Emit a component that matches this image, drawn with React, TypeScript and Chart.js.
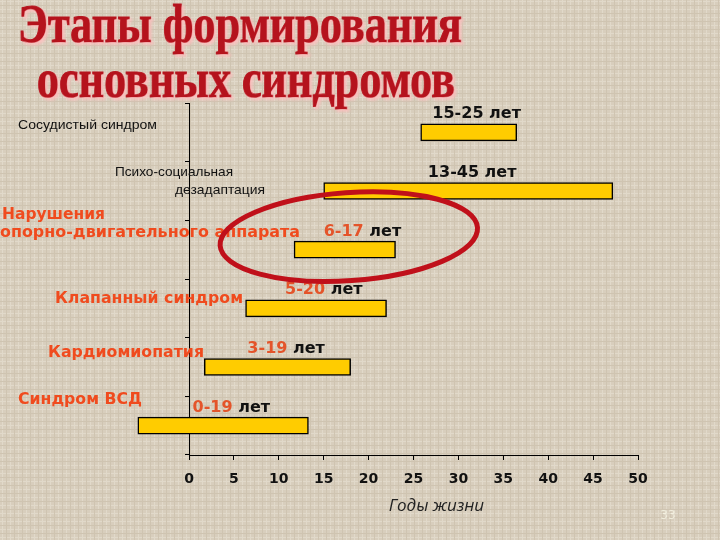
import React, { useEffect, useRef } from "react";
import { Chart, registerables } from "chart.js";

Chart.register(...registerables);

// ---------- data ----------
const titleLines = ["Этапы формирования", "основных синдромов"];
const categories = [
  "Сосудистый синдром",
  "Психо-социальная дезадаптация",
  "Нарушения опорно-двигательного аппарата",
  "Клапанный синдром",
  "Кардиомиопатия",
  "Синдром ВСД",
];
const categoryLines = [
  ["Сосудистый синдром"],
  ["Психо-социальная", "дезадаптация"],
  ["Нарушения", "опорно-двигательного аппарата"],
  ["Клапанный синдром"],
  ["Кардиомиопатия"],
  ["Синдром ВСД"],
];
const barStart = [25.8, 15.0, 11.7, 6.3, 1.7, -5.7];
const barEnd = [36.5, 47.2, 23.0, 22.0, 18.0, 13.3];
const rangeText = ["15-25", "13-45", "6-17", "5-20", "3-19", "0-19"];
const unitText = "лет";
const rangeHighlighted = [false, false, true, true, true, true];
const xTickValues = [0, 5, 10, 15, 20, 25, 30, 35, 40, 45, 50];
const xAxisTitle = "Годы жизни";
const slideNumber = "33";

// ---------- layout / style ----------
const W = 720;
const H = 540;
const ORANGE = "#f04b1e";
const NUM_ORANGE = "#e4542a";
const TITLE_RED = "#b5131d";
const BAR_FILL = "#ffcc00";

type LineBox = { x: number; y: number; w: number };
const labelLayout: { font: string; color: string; boxes: LineBox[] }[] = [
  { font: '13px "Liberation Sans"', color: "#111", boxes: [{ x: 18, y: 125, w: 139 }] },
  {
    font: '13px "Liberation Sans"',
    color: "#111",
    boxes: [
      { x: 115, y: 172, w: 118 },
      { x: 175, y: 190, w: 90 },
    ],
  },
  {
    font: 'bold 15px "DejaVu Sans"',
    color: ORANGE,
    boxes: [
      { x: 2, y: 215, w: 103 },
      { x: 0, y: 233, w: 300 },
    ],
  },
  { font: 'bold 15px "DejaVu Sans"', color: ORANGE, boxes: [{ x: 55, y: 299, w: 188 }] },
  { font: 'bold 15px "DejaVu Sans"', color: ORANGE, boxes: [{ x: 48, y: 353, w: 156 }] },
  { font: 'bold 15px "DejaVu Sans"', color: ORANGE, boxes: [{ x: 18, y: 400, w: 124 }] },
];
const valueLabelX = [27.1, 26.6, 15.0, 10.7, 6.5, 0.4];
const valueLabelRise = 18;
const circledIndex = 2;

function fitText(
  ctx: CanvasRenderingContext2D,
  text: string,
  x: number,
  y: number,
  w: number,
  stroke = false
) {
  const m = ctx.measureText(text).width || 1;
  ctx.save();
  ctx.translate(x, y);
  ctx.scale(w / m, 1);
  if (stroke) ctx.strokeText(text, 0, 0);
  ctx.fillText(text, 0, 0);
  ctx.restore();
}

function makeTexture(ctx: CanvasRenderingContext2D) {
  const c = document.createElement("canvas");
  c.width = 8;
  c.height = 8;
  const t = c.getContext("2d")!;
  t.fillStyle = "#d8cebd";
  t.fillRect(0, 0, 8, 8);
  t.fillStyle = "#e1d9ca";
  t.fillRect(0, 1, 8, 1);
  t.fillRect(2, 0, 1, 8);
  t.fillStyle = "#cfc4b1";
  t.fillRect(0, 5, 8, 1);
  t.fillRect(6, 0, 1, 8);
  return ctx.createPattern(c, "repeat");
}

const decor = {
  id: "decor",
  beforeDraw(chart: any) {
    const ctx: CanvasRenderingContext2D = chart.ctx;
    ctx.save();
    ctx.fillStyle = makeTexture(ctx) || "#d8cebd";
    ctx.fillRect(0, 0, W, H);

    // title
    ctx.font = 'bold 55px "Liberation Serif"';
    ctx.textBaseline = "alphabetic";
    ctx.fillStyle = TITLE_RED;
    ctx.strokeStyle = TITLE_RED;
    ctx.lineWidth = 1.2;
    ctx.shadowColor = "rgba(255,190,190,0.9)";
    ctx.shadowOffsetX = 2;
    ctx.shadowOffsetY = 2;
    ctx.shadowBlur = 3;
    fitText(ctx, titleLines[0], 18, 42, 444, true);
    fitText(ctx, titleLines[1], 37, 97, 418, true);
    ctx.restore();
  },
  afterDraw(chart: any) {
    const ctx: CanvasRenderingContext2D = chart.ctx;
    const xs = chart.scales.x;
    const meta = chart.getDatasetMeta(0);
    ctx.save();

    // category labels
    ctx.textBaseline = "middle";
    ctx.textAlign = "left";
    categoryLines.forEach((lines, i) => {
      const L = labelLayout[i];
      ctx.font = L.font;
      ctx.fillStyle = L.color;
      lines.forEach((txt, j) => {
        const b = L.boxes[j];
        fitText(ctx, txt, b.x, b.y, b.w);
      });
    });

    // value labels above bars
    ctx.font = 'bold 16px "DejaVu Sans"';
    meta.data.forEach((bar: any, i: number) => {
      const x = xs.getPixelForValue(valueLabelX[i]);
      const y = bar.y - valueLabelRise;
      const num = rangeText[i];
      ctx.fillStyle = rangeHighlighted[i] ? NUM_ORANGE : "#111";
      ctx.fillText(num, x, y);
      const w = ctx.measureText(num + " ").width;
      ctx.fillStyle = "#111";
      ctx.fillText(unitText, x + w, y);
    });

    // ellipse around highlighted row
    const hb: any = meta.data[circledIndex];
    if (hb) {
      const cx = (hb.x + hb.base) / 2 + 4;
      const cy = hb.y - 13;
      ctx.beginPath();
      ctx.ellipse(cx, cy, 129, 44, -0.07, 0, Math.PI * 2);
      ctx.strokeStyle = "#c0101a";
      ctx.lineWidth = 5;
      ctx.stroke();
    }

    // axis title
    const area = chart.chartArea;
    ctx.font = 'italic 17px "Open Sans"';
    ctx.fillStyle = "#222";
    ctx.textAlign = "center";
    ctx.fillText(xAxisTitle, (area.left + area.right) / 2 + 23, area.bottom + 51);

    // slide number
    ctx.font = '12px "DejaVu Sans"';
    ctx.fillStyle = "rgba(250,248,232,0.75)";
    ctx.fillText(slideNumber, 668, 516);
    ctx.restore();
  },
};

export default function App() {
  const ref = useRef<HTMLCanvasElement | null>(null);
  useEffect(() => {
    document.body.style.margin = "0";
    const canvas = ref.current!;
    const chart = new Chart(canvas, {
      type: "bar",
      data: {
        labels: categories,
        datasets: [
          {
            data: categories.map((_, i) => [barStart[i], barEnd[i]]) as any,
            backgroundColor: BAR_FILL,
            borderColor: "#000",
            borderWidth: 1.5,
            borderSkipped: false,
            barThickness: 17,
            clip: false as any,
          },
        ],
      },
      options: {
        indexAxis: "y",
        responsive: false,
        animation: false,
        layout: { padding: { left: 0, top: 103, right: 82, bottom: 0 } },
        plugins: {
          legend: { display: false },
          tooltip: { enabled: false },
          title: { display: false },
        },
        scales: {
          x: {
            type: "linear",
            min: 0,
            max: 50,
            z: 1,
            afterBuildTicks: (s: any) => {
              s.ticks = xTickValues.map((v) => ({ value: v }));
            },
            afterFit: (s: any) => {
              s.height = 85;
            },
            grid: { drawOnChartArea: false, drawTicks: true, tickLength: 5, color: "#000" },
            border: { color: "#000", width: 1 },
            ticks: {
              color: "#111",
              font: { family: "DejaVu Sans", weight: "bold", size: 14 },
              padding: 11,
              maxRotation: 0,
            },
          },
          y: {
            type: "category",
            z: 1,
            afterFit: (s: any) => {
              s.width = 189;
            },
            grid: { drawOnChartArea: false, drawTicks: true, tickLength: 4, color: "#000", offset: true },
            border: { color: "#000", width: 1 },
            ticks: { display: false },
          },
        },
      },
      plugins: [decor],
    });
    return () => chart.destroy();
  }, []);
  return (
    <div style={{ width: W, height: H }}>
      <canvas ref={ref} width={W} height={H} style={{ display: "block" }} />
    </div>
  );
}
